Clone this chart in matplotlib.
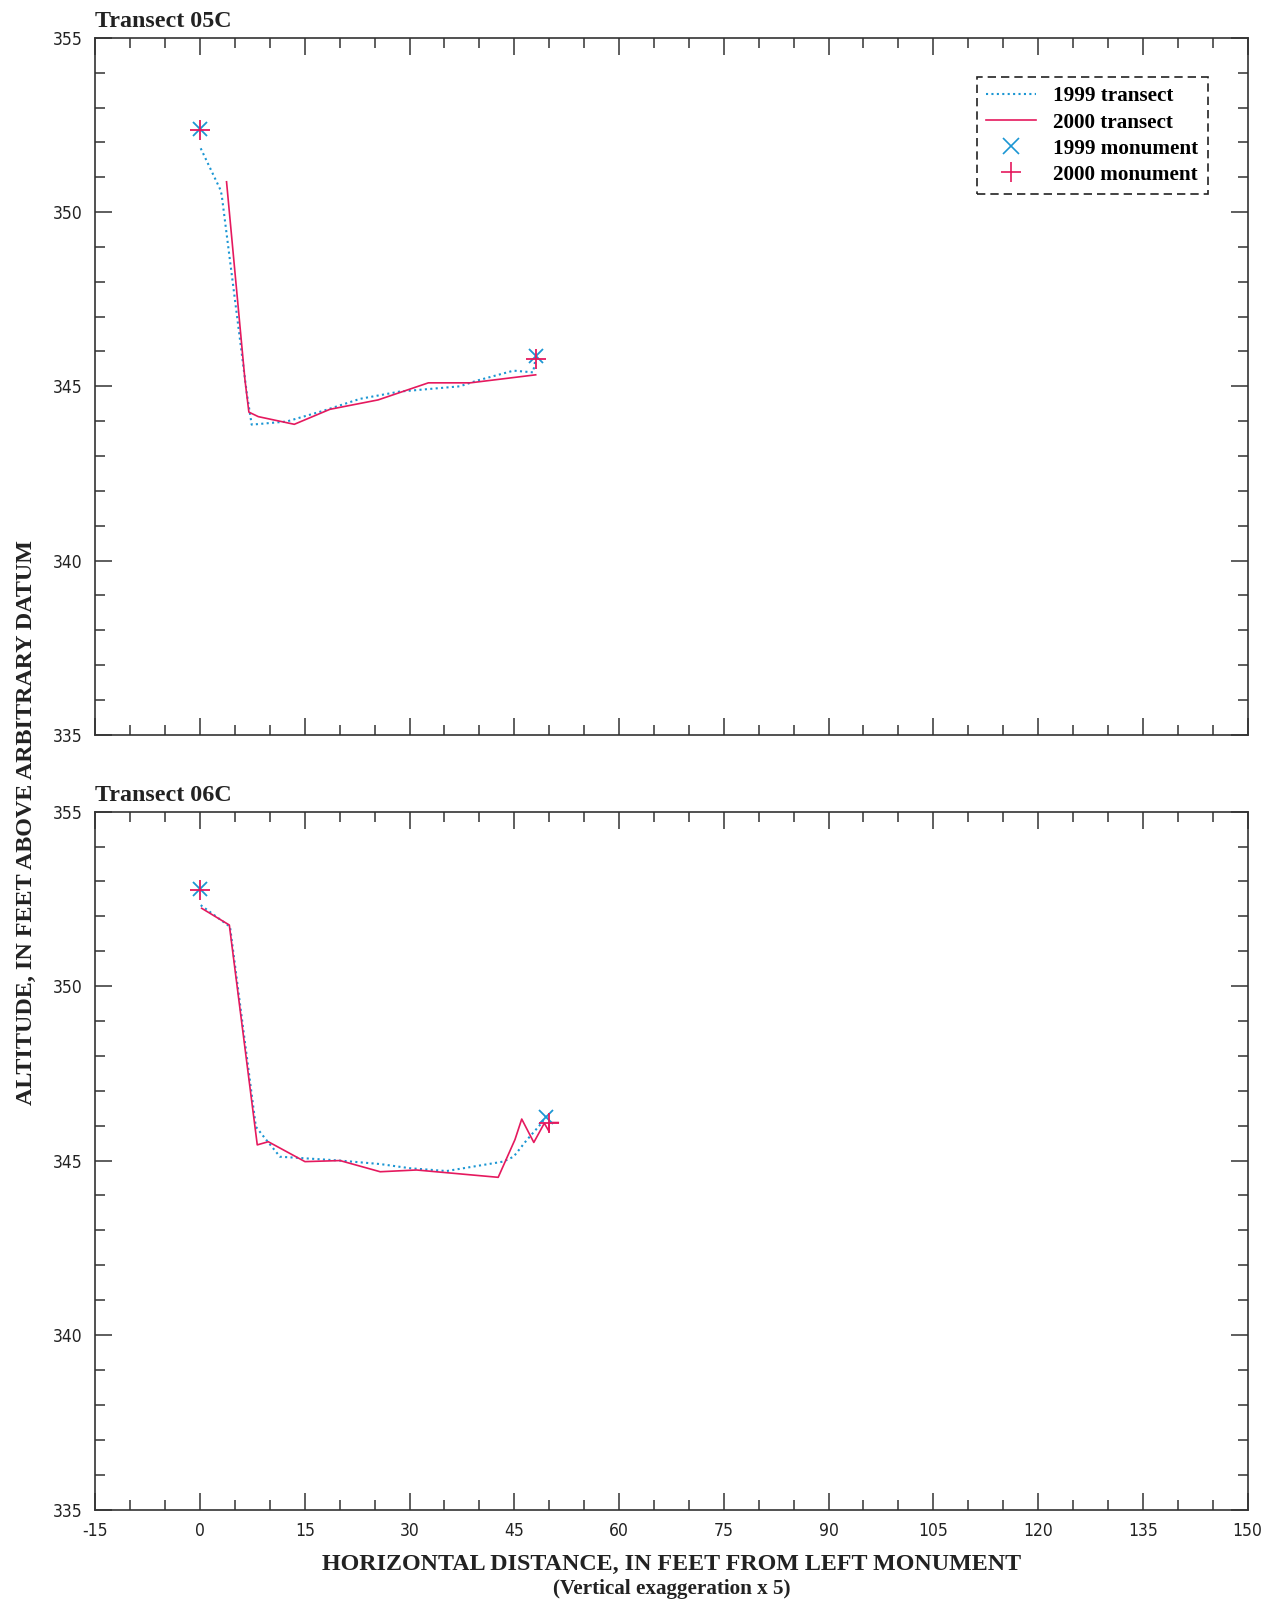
import matplotlib
matplotlib.use("Agg")
from matplotlib import pyplot as plt
from matplotlib.ticker import MultipleLocator
from matplotlib.lines import Line2D

plt.rcParams["axes.unicode_minus"] = False

# transect 05C
x99_05 = [0.1, 2.9, 3.1, 6.7, 7.4, 12.4, 17.7, 22.9, 28.6, 37.2, 39.6, 44.9, 47.7, 48.1]
y99_05 = [351.83, 350.65, 350.5, 344.8, 343.9, 343.99, 344.3, 344.64, 344.85, 345.0, 345.16, 345.45, 345.4, 345.85]
x00_05 = [3.8, 6.44, 7.0, 8.35, 13.5, 18.6, 25.5, 32.7, 38.7, 48.07]
y00_05 = [350.87, 345.18, 344.26, 344.13, 343.91, 344.34, 344.61, 345.1, 345.1, 345.33]
mon99_05 = ([0.05, 48.1], [352.39, 345.87])
mon00_05 = ([0.05, 48.07], [352.35, 345.78])

# transect 06C
x99_06 = [0.1, 4.3, 8.0, 9.3, 11.45, 16.2, 20.05, 25.8, 30.1, 35.3, 43.4, 44.9, 46.8, 48.9, 49.5]
y99_06 = [352.32, 351.7, 345.97, 345.64, 345.11, 345.05, 345.0, 344.9, 344.78, 344.7, 344.97, 345.11, 345.59, 346.07, 346.26]
x00_06 = [0.24, 4.2, 8.2, 9.78, 15.03, 20.05, 25.8, 31.0, 42.7, 45.1, 46.07, 47.8, 49.3, 50.0, 50.0, 51.3]
y00_06 = [352.23, 351.75, 345.45, 345.54, 344.97, 345.0, 344.68, 344.73, 344.52, 345.6, 346.19, 345.52, 346.07, 345.83, 346.09, 346.09]
mon99_06 = ([0.05, 49.5], [352.77, 346.26])
mon00_06 = ([0.05, 50.0], [352.75, 346.09])

xticks = [-15, 0, 15, 30, 45, 60, 75, 90, 105, 120, 135, 150]
yticks = [335, 340, 345, 350, 355]

blue = "#1b96d3"
red = "#e5195e"
serif = ["Liberation Serif", "DejaVu Serif"]

fig = plt.figure(figsize=(12.7, 16.04), dpi=100)
ax1 = fig.add_axes([0.075, 0.5419, 0.9073, 0.4345])
ax2 = fig.add_axes([0.075, 0.0589, 0.9073, 0.4351])

panels = [
	(ax1, "Transect 05C", x99_05, y99_05, x00_05, y00_05, mon99_05, mon00_05),
	(ax2, "Transect 06C", x99_06, y99_06, x00_06, y00_06, mon99_06, mon00_06),
]

for ax, title, xa, ya, xb, yb, m99, m00 in panels:
	ax.plot(xa, ya, color=blue, lw=1.5, ls=(0, (1, 1.6)))
	ax.plot(xb, yb, color=red, lw=1.2)
	ax.plot(m99[0], m99[1], ls="none", marker="x", ms=10, mew=1.3, color=blue)
	ax.plot(m00[0], m00[1], ls="none", marker="+", ms=14, mew=1.3, color=red)
	ax.set_xlim(-15, 150)
	ax.set_ylim(335, 355)
	ax.set_xticks(xticks)
	ax.set_yticks(yticks)
	ax.xaxis.set_minor_locator(MultipleLocator(5))
	ax.yaxis.set_minor_locator(MultipleLocator(1))
	ax.tick_params(which="both", direction="in", top=True, right=True, width=1.1, color="#333333")
	ax.tick_params(which="major", length=12, pad=9)
	ax.tick_params(which="minor", length=7)
	for s in ax.spines.values():
		s.set_linewidth(1.2)
		s.set_color("#333333")
	for lab in ax.get_xticklabels() + ax.get_yticklabels():
		lab.set_family("DejaVu Sans")
		lab.set_stretch("condensed")
		lab.set_fontsize(12.5)
		lab.set_color("#222222")
	ax.text(0.0, 1.008, title, transform=ax.transAxes, ha="left", va="bottom",
		family=serif, fontweight="bold", fontsize=17.3, color="#222222")

ax1.tick_params(labelbottom=False)

handles = [
	Line2D([], [], color=blue, lw=1.5, ls=(0, (1, 1.6))),
	Line2D([], [], color=red, lw=1.2),
	Line2D([], [], ls="none", marker="x", ms=11, mew=1.2, color=blue),
	Line2D([], [], ls="none", marker="+", ms=14, mew=1.2, color=red),
]
labels = ["1999 transect", "2000 transect", "1999 monument", "2000 monument"]
leg = ax1.legend(handles, labels, loc="upper right", bbox_to_anchor=(0.9654, 0.9443),
	borderaxespad=0, prop={"family": serif, "weight": "bold", "size": 15.2}, fancybox=False,
	handlelength=2.33, labelspacing=0.29, borderpad=0.46, handletextpad=0.82, framealpha=1)
fr = leg.get_frame()
fr.set_edgecolor("#222222")
fr.set_linestyle((0, (5, 3)))
fr.set_linewidth(1.2)

fig.text(0.021, 0.4875, "ALTITUDE, IN FEET ABOVE ARBITRARY DATUM", rotation=90, ha="center", va="center",
	family=serif, fontweight="bold", fontsize=17.4, color="#222222")
fig.text(0.529, 0.0245, "HORIZONTAL DISTANCE, IN FEET FROM LEFT MONUMENT", ha="center", va="center",
	family=serif, fontweight="bold", fontsize=17.3, color="#222222")
fig.text(0.529, 0.0095, "(Vertical exaggeration x 5)", ha="center", va="center",
	family=serif, fontweight="bold", fontsize=15.2, color="#222222")

fig.savefig("out.png", dpi=100)
